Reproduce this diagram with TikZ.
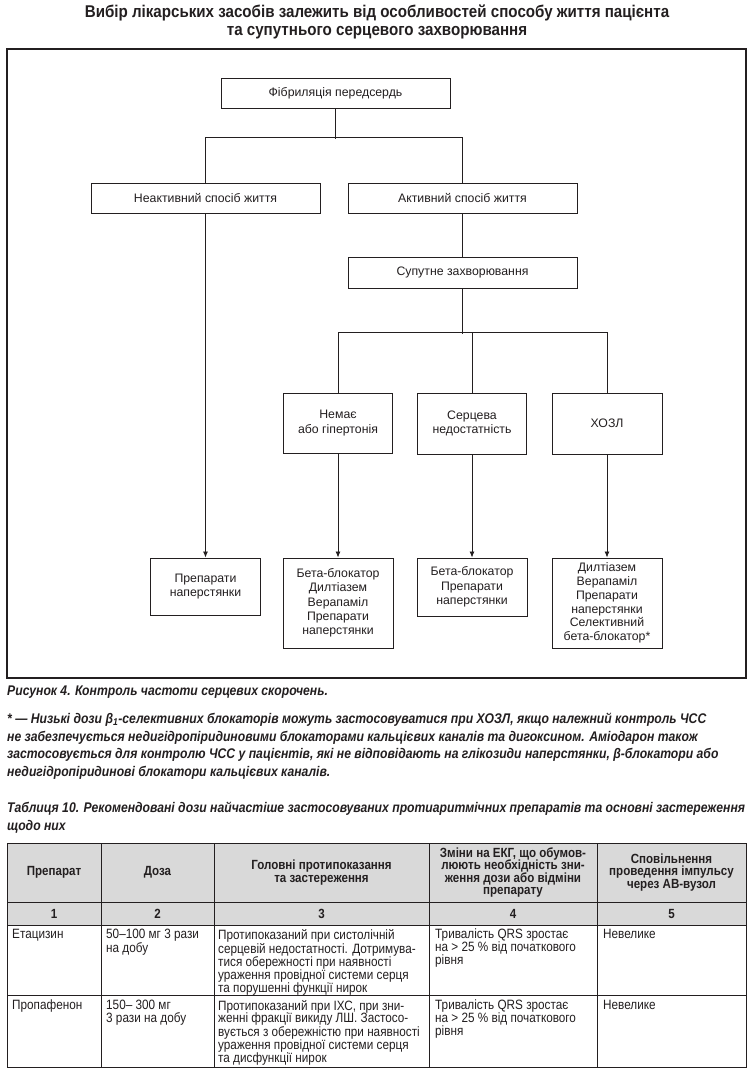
\documentclass[tikz,border=0pt]{standalone}
\usepackage{fontspec}
\setmainfont{Liberation Sans}
\newfontfamily\titlefont[FakeStretch=0.89]{Liberation Sans}
\newfontfamily\condf[FakeStretch=0.87]{Liberation Sans}
\usetikzlibrary{arrows.meta}
\definecolor{ink}{HTML}{231F20}
\definecolor{hdrgray}{HTML}{D9D9D9}
\begin{document}
\begin{tikzpicture}[x=1pt,y=-1pt,
  every node/.style={text=ink},
  box/.style={draw=ink, line width=1pt, align=center, inner sep=0pt,
    font=\fontsize{12.3}{14.3}\selectfont},
  conn/.style={draw=ink, line width=0.8pt},
  arr/.style={conn, -{Latex[length=6pt,width=5pt]}},
  titlef/.style={font=\titlefont\bfseries\fontsize{17}{18}\selectfont, align=center},
  capf/.style={font=\condf\bfseries\itshape\fontsize{14}{17.5}\selectfont, align=left, inner sep=0pt, anchor=north west},
  thead/.style={font=\condf\bfseries\fontsize{13.3}{12.6}\selectfont, align=center, inner sep=0pt},
  tbody/.style={font=\condf\fontsize{13.5}{12.7}\selectfont, align=left, inner sep=0pt, anchor=north west},
  tline/.style={draw=ink, line width=1pt}
]
\useasboundingbox[fill=white] (0,0) rectangle (754,1073);

% title
\node[titlef] (title) at (377,22) {Вибір лікарських засобів залежить від особливостей способу життя пацієнта\\та супутнього серцевого захворювання};

% frame
\draw[draw=ink, line width=1.2pt] (7,49) rectangle (746,678);

% flowchart boxes
\node[box, minimum width=229pt, minimum height=30pt] (fib) at (335.5,93) {Фібриляція передсердь};
\node[box, minimum width=229pt, minimum height=30pt] (inact) at (205.5,198) {Неактивний спосіб життя};
\node[box, minimum width=229pt, minimum height=30pt] (act) at (462.5,198) {Активний спосіб життя};
\node[box, minimum width=229pt, minimum height=31pt] (cm) at (462.5,272.5) {Супутне захворювання};

\node[box, minimum width=109pt, minimum height=60pt] (none) at (338,423) {Немає\\або гіпертонія};
\node[box, minimum width=109pt, minimum height=61pt] (hf) at (472,423.5) {Серцева\\недостатність};
\node[box, minimum width=110pt, minimum height=61pt] (copd) at (607,423.5) {ХОЗЛ};

\node[box, minimum width=110pt, minimum height=57pt] (dig) at (205.5,586.5) {Препарати\\наперстянки};
\node[box, minimum width=110pt, minimum height=90pt] (b1) at (338,603) {Бета-блокатор\\Дилтіазем\\Верапаміл\\Препарати\\наперстянки};
\node[box, minimum width=110pt, minimum height=58pt] (b2) at (472,587) {Бета-блокатор\\Препарати\\наперстянки};
\node[box, minimum width=110pt, minimum height=90pt, font=\fontsize{12.3}{13.7}\selectfont] (b3) at (607,603) {Дилтіазем\\Верапаміл\\Препарати\\наперстянки\\Селективний\\бета-блокатор*};

% connectors
\draw[conn] (fib.south) -- ++(0,30);
\draw[conn] (inact.north) -- ++(0,-45) -| (act.north);
\draw[conn] (act.south) -- (cm.north);
\draw[conn] (cm.south) -- ++(0,45);
\draw[conn] (none.north) -- ++(0,-60) -| (copd.north);
\draw[conn] (hf.north) -- ++(0,-60);
\draw[arr] (inact.south) -- (dig.north);
\draw[arr] (none.south) -- (b1.north);
\draw[arr] (hf.south) -- (b2.north);
\draw[arr] (copd.south) -- (b3.north);

% captions
\node[capf] (figcap) at (7,686) {Рисунок 4. Контроль частоти серцевих скорочень.};
\node[capf] (foot) at (7,713) {* — Низькі дози β\textsubscript{1}-селективних блокаторів можуть застосовуватися при ХОЗЛ, якщо належний контроль ЧСС\\
не забезпечується недигідропіридиновими блокаторами кальцієвих каналів та дигоксином. Аміодарон також\\
застосовується для контролю ЧСС у пацієнтів, які не відповідають на глікозиди наперстянки, β-блокатори або\\
недигідропіридинові блокатори кальцієвих каналів.};
\node[capf] (tabcap) at (7,802) {Таблиця 10. Рекомендовані дози найчастіше застосовуваних протиаритмічних препаратів та основні застереження\\щодо них};

% table
\fill[hdrgray] (7,843) rectangle (746,925);
\draw[tline] (7,843) rectangle (746,1067);
\foreach \yy in {902,925,995} \draw[tline] (7,\yy) -- (746,\yy);
\foreach \xx in {101,214,429,597} \draw[tline] (\xx,843) -- (\xx,1067);

\node[thead] (h1) at (54,872.5) {Препарат};
\node[thead] (h2) at (157.5,872.5) {Доза};
\node[thead] (h3) at (321.5,872.5) {Головні протипоказання\\та застереження};
\node[thead] (h4) at (513,872.5) {Зміни на ЕКГ, що обумов-\\люють необхідність зни-\\ження дози або відміни\\препарату};
\node[thead] (h5) at (671.5,872.5) {Сповільнення\\проведення імпульсу\\через АВ-вузол};

\node[thead] (n1) at (54,913.5) {1};
\node[thead] (n2) at (157.5,913.5) {2};
\node[thead] (n3) at (321.5,913.5) {3};
\node[thead] (n4) at (513,913.5) {4};
\node[thead] (n5) at (671.5,913.5) {5};

\node[tbody] (r1c1) at (12,929) {Етацизин};
\node[tbody] (r1c2) at (106,929) {50–100 мг 3 рази\\на добу};
\node[tbody] (r1c3) at (218,929) {Протипоказаний при систолічній\\серцевій недостатності. Дотримува-\\тися обережності при наявності\\ураження провідної системи серця\\та порушенні функції нирок};
\node[tbody] (r1c4) at (435,929) {Тривалість QRS зростає\\на > 25 \% від початкового\\рівня};
\node[tbody] (r1c5) at (603,929) {Невелике};

\node[tbody] (r2c1) at (12,1000) {Пропафенон};
\node[tbody] (r2c2) at (106,1000) {150– 300 мг\\3 рази на добу};
\node[tbody] (r2c3) at (218,1000) {Протипоказаний при ІХС, при зни-\\женні фракції викиду ЛШ. Застосо-\\вується з обережністю при наявності\\ураження провідної системи серця\\та дисфункції нирок};
\node[tbody] (r2c4) at (435,1000) {Тривалість QRS зростає\\на > 25 \% від початкового\\рівня};
\node[tbody] (r2c5) at (603,1000) {Невелике};
\end{tikzpicture}
\end{document}
